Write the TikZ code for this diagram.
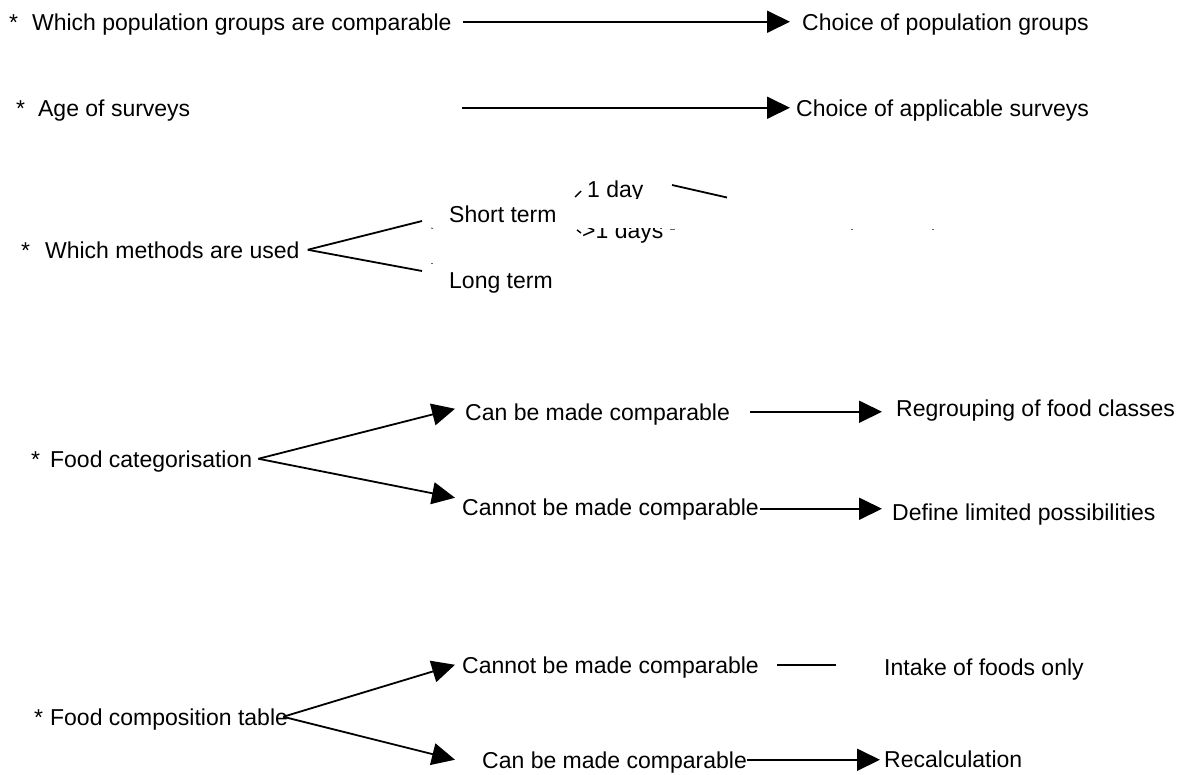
\documentclass[tikz,border=0pt]{standalone}
\usepackage{fontspec}
\setmainfont{Liberation Sans}
\usetikzlibrary{arrows.meta,calc}
\begin{document}
\begin{tikzpicture}[x=1pt,y=-1pt,
  txt/.style={anchor=base west,inner sep=0pt,text height=16.5pt,text depth=0pt,font=\fontsize{23}{27}\selectfont},
  conn/.style={line width=1.8pt},
  arr/.style={line width=1.8pt,-{Triangle[length=23pt,width=22pt]}},
  speck/.style={line width=1pt,black!60}]
\useasboundingbox (0,0) rectangle (1182,774);
% row 1
\node[txt] (n1) at (9,30) {*\hspace{14pt}Which population groups are comparable};
\node[txt] (c1) at (802,30) {Choice of population groups};
\draw[arr] ([xshift=11pt]n1.east) -- ([xshift=-12pt]c1.west);
% row 2
\node[txt] (n2) at (16,116) {*\hspace{13pt}Age of surveys};
\node[txt] (c2) at (796,116) {Choice of applicable surveys};
\coordinate (s2) at (462,107.75);
\draw[arr] (s2) -- ($(c2.west |- s2)+(-6,0)$);
% row 3
\node[txt] (n3) at (21,258) {*\hspace{15pt}Which methods are used};
\node[txt] (st) at (449,222) {Short term};
\node[txt] (lt) at (449,288) {Long term};
\node[txt] (d1) at (587,197) {1 day};
\node[txt] (d2) at (582,238) {>1 days};
\coordinate (m1) at (422,221);
\coordinate (m2) at (422,271);
\draw[conn] ([xshift=8pt]n3.east) -- (m1);
\draw[conn] ([xshift=8pt]n3.east) -- (m2);
\fill[white] (565,198.5) rectangle (965,228);
\coordinate (k1a) at (575,197); \coordinate (k1b) at (581,191);
\coordinate (k2a) at (577,230); \coordinate (k2b) at (581,233);
\coordinate (la) at (672,185); \coordinate (lb) at (727,197.5);
\draw[line width=1.4pt] (k1a) -- (k1b);
\draw[line width=1.4pt] (k2a) -- (k2b);
\draw[conn] (la) -- (lb);
\draw[speck] (431,228) -- (433,228.5);
\draw[speck] (431,263) -- (433,263);
\draw[speck] (670,229.5) -- (675,229.5);
\draw[speck] (851,229) -- (853,229);
\draw[speck] (932,229) -- (934,229);
% row 4
\node[txt] (n4) at (31,467) {*\hspace{10pt}Food categorisation};
\node[txt] (a4) at (465,420) {Can be made comparable};
\node[txt] (b4) at (462,515) {Cannot be made comparable};
\node[txt] (r4) at (896,416) {Regrouping of food classes};
\node[txt] (d4) at (892,520) {Define limited possibilities};
\coordinate (o4) at ([xshift=6pt]n4.east);
\draw[arr] (o4) -- ([shift={(-10,-3)}]a4.west);
\draw[arr] (o4) -- ([shift={(-7,-9)}]b4.west);
\draw[arr] ([xshift=20pt]a4.east) -- ($(r4.west |- a4.east)+(-14,0)$);
\draw[arr] ([shift={(1,2)}]b4.east) -- ($(d4.west |- b4.east)+(-10,2)$);
% row 5
\node[txt] (n5) at (34,725) {*\hspace{7pt}Food composition table};
\node[txt] (a5) at (462,673) {Cannot be made comparable};
\node[txt] (i5) at (884,675) {Intake of foods only};
\node[txt] (b5) at (482,768) {Can be made comparable};
\node[txt] (r5) at (884,767) {Recalculation};
\coordinate (o5) at ([xshift=-5pt]n5.east);
\draw[arr] (o5) -- ([xshift=-7pt]a5.west);
\draw[arr] (o5) -- ([xshift=-27pt]b5.west);
\draw[conn] ([xshift=18pt]a5.east) -- ($(i5.west |- a5.east)+(-48,0)$);
\draw[arr] (b5.east) -- ($(r5.west |- b5.east)+(-4,0)$);
\end{tikzpicture}
\end{document}
